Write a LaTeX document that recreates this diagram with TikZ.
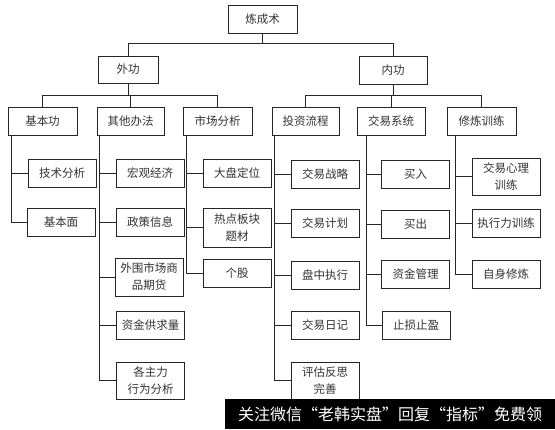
\documentclass[tikz,border=0pt]{standalone}
\usepackage{fontspec}
\usepackage{tikz}
\usetikzlibrary{positioning,calc}
\newfontfamily\cjk{Noto Sans CJK SC}

\begin{document}
\begin{tikzpicture}[x=1pt,y=-1pt,box/.style={draw=black!85,line width=0.9pt,align=center,minimum width=68pt,minimum height=28pt,inner sep=0pt,font=\cjk\fontsize{11.5}{17}\selectfont,text=black!80},tall/.style={box,minimum height=38pt},line/.style={draw=black!85,line width=0.8pt}]
\useasboundingbox[fill=white](0,0)rectangle(555,429);
% top levels
\node[box,minimum width=69pt](root)at(262.5,19){炼成术};
\node[box,minimum width=60pt,minimum height=27pt](wg)at(128,69.5){外功};
\node[box](ng)at(393,70){内功};
\draw[line](root.south)--++(0,10)coordinate(rb);
\draw[line](rb)-|(wg.north);
\draw[line](rb)-|(ng.north);
\node[box,minimum width=69pt](jbg)at(42.5,121){基本功};
\node[box,minimum width=67pt](qtbf)at(130.5,121){其他办法};
\node[box,minimum width=69pt](scfx)at(217.5,121){市场分析};
\node[box,minimum width=67pt](tzlc)at(305.5,121){投资流程};
\node[box](jyxt)at(391,121){交易系统};
\node[box,minimum width=69pt](xlxl)at(481.5,121){修炼训练};
\draw[line](wg.south)--++(0,12)coordinate(wb);
\foreach \c in {jbg,qtbf,scfx}\draw[line](wb)-|(\c.north);
\draw[line](ng.south)--++(0,11)coordinate(nb);
\foreach \c in {tzlc,jyxt,xlxl}\draw[line](nb)-|(\c.north);
% leaves
\node[box](jsfx)at(62,173.5){技术分析};
\node[box](jbm)at(61,222.5){基本面};
\node[box](hgjj)at(150,173.5){宏观经济};
\node[box](zcxx)at(150,222.5){政策信息};
\node[tall](wwsc)at(149,277){外围市场商\\品期货};
\node[box](zjgql)at(150.5,325.5){资金供求量};
\node[tall,minimum height=37pt](gzl)at(150.5,380.5){各主力\\行为分析};
\node[box](dpdw)at(237,173.5){大盘定位};
\node[tall,minimum height=39pt](rdbk)at(237,227.5){热点板块\\题材};
\node[box](gg)at(237,273){个股};
\node[box](jyzl)at(325,174){交易战略};
\node[box](jyjh)at(325,223){交易计划};
\node[box](pzzx)at(325,275){盘中执行};
\node[box](jyrj)at(325,325){交易日记};
\node[tall,minimum height=37pt](pgfs)at(325,380.5){评估反思\\完善};
\node[box](mr)at(415.5,174){买入};
\node[box](mc)at(415.5,224.5){买出};
\node[box](zjgl)at(415.5,274.5){资金管理};
\node[box](zszy)at(416,325){止损止盈};
\node[tall,minimum height=37pt](jyxl)at(506,176.5){交易心理\\训练};
\node[box](zxl)at(506,223){执行力训练};
\node[box](zsxl)at(506,274.5){自身修炼};
\foreach \c in {jsfx,jbm}\draw[line]($(jbg.south west)+(4,0)$)|-(\c.west);
\foreach \c in {hgjj,zcxx,wwsc,zjgql,gzl}\draw[line]($(qtbf.south west)+(3,0)$)|-(\c.west);
\foreach \c in {dpdw,rdbk,gg}\draw[line]($(scfx.south west)+(4,0)$)|-(\c.west);
\foreach \c in {jyzl,jyjh,pzzx,jyrj,pgfs}\draw[line]($(tzlc.south west)+(3,0)$)|-(\c.west);
\foreach \c in {mr,mc,zjgl,zszy}\draw[line]($(jyxt.south west)+(10,0)$)|-(\c.west);
\foreach \c in {jyxl,zxl,zsxl}\draw[line]($(xlxl.south west)+(9,0)$)|-(\c.west);
% banner
\node[fill=black,anchor=north west,minimum width=330pt,minimum height=30pt,inner sep=0pt,text=white,font=\cjk\fontsize{16}{16}\selectfont](wm)at(225,399){关注微信“老韩实盘”回复“指标”免费领};
\end{tikzpicture}
\end{document}
